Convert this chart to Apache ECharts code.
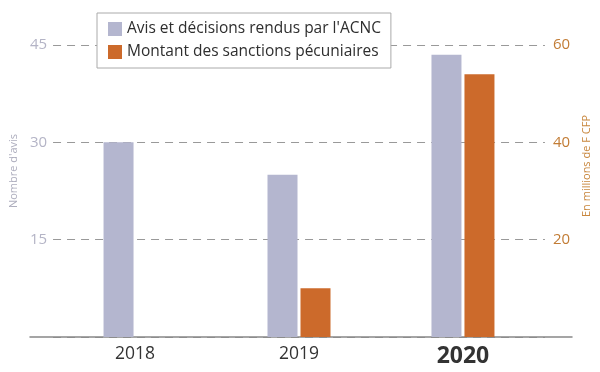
<!DOCTYPE html>
<html><head><meta charset="utf-8">
<script src="https://cdn.jsdelivr.net/npm/echarts@6/dist/echarts.min.js"></script>
<style>html,body{margin:0;padding:0;background:#fff}#c{width:600px;height:372px}</style>
</head><body><div id="c"></div>
<script>
const categories = ['2018', '2019', '2020'];
const avisValues = [30, 25, 43.5];
const sanctionValues = [null, 10, 54];
const leftTicks = [0, 15, 30, 45];
const rightTicks = [0, 20, 40, 60];
const seriesNames = ["Avis et décisions rendus par l'ACNC", 'Montant des sanctions pécuniaires'];

const chart = echarts.init(document.getElementById('c'));
const font = '"Open Sans", "Noto Sans", sans-serif';
chart.setOption({
  animation: false,
  textStyle: { fontFamily: font },
  legend: {
    orient: 'vertical', left: 97, top: 13,
    padding: [8, 10, 8, 11], itemGap: 7,
    backgroundColor: '#fff', borderColor: '#aaa', borderWidth: 1,
    itemWidth: 14, itemHeight: 14, icon: 'rect',
    textStyle: { fontSize: 15.5, color: '#2e2e2e', fontFamily: font },
    data: seriesNames
  },
  grid: [
    { left: 53, right: 55, top: 45, bottom: 35 },
    { left: 30, right: 28, top: 45, bottom: 35 }
  ],
  xAxis: [{
    type: 'category', data: categories, gridIndex: 0,
    axisLine: { show: false }, axisTick: { show: false },
    axisLabel: {
      margin: 8,
      formatter: v => v === '2020' ? '{b|' + v + '}' : '{n|' + v + '}',
      rich: {
        n: { fontSize: 17.5, color: '#333', fontFamily: font },
        b: { fontSize: 23, fontWeight: 'bold', color: '#333', fontFamily: font }
      }
    }
  }, {
    type: 'category', data: categories, gridIndex: 1,
    axisLine: { show: true, lineStyle: { color: '#888', width: 1.5 } },
    axisTick: { show: false }, axisLabel: { show: false }
  }],
  yAxis: [{
    type: 'value', min: leftTicks[0], max: leftTicks[leftTicks.length - 1], interval: 15,
    name: "Nombre d'avis", nameLocation: 'middle', nameGap: 26, nameRotate: 90,
    nameTextStyle: { color: '#aeaebe', fontSize: 11, fontFamily: font, padding: [0, 0, 0, 40] },
    axisLine: { show: false }, axisTick: { show: false },
    axisLabel: { color: '#b4b4c6', fontSize: 15, margin: 6, formatter: v => v === 0 ? '' : v },
    splitLine: { show: true, lineStyle: { color: '#999', type: [8, 6], width: 1 } }
  }, {
    type: 'value', position: 'right', min: rightTicks[0], max: rightTicks[rightTicks.length - 1], interval: 20,
    name: 'En millions de F CFP', nameLocation: 'middle', nameGap: 31, nameRotate: 90,
    nameTextStyle: { color: '#c8873e', fontSize: 11, fontFamily: font, padding: [0, 0, 0, 50] },
    axisLine: { show: false }, axisTick: { show: false },
    axisLabel: { color: '#c27c35', fontSize: 15, margin: 8, formatter: v => v === 0 ? '' : v },
    splitLine: { show: false }
  }, {
    type: 'value', gridIndex: 1, show: false, min: 0, max: 1
  }],
  series: [{
    name: seriesNames[0], type: 'bar', data: avisValues,
    xAxisIndex: 0, yAxisIndex: 0,
    barWidth: 30, barGap: '10%',
    itemStyle: { color: '#b4b6cf' }
  }, {
    name: seriesNames[1], type: 'bar', data: sanctionValues,
    xAxisIndex: 0, yAxisIndex: 1,
    barWidth: 30, barGap: '10%',
    itemStyle: { color: '#cc6a2b' }
  }]
});
</script></body></html>
